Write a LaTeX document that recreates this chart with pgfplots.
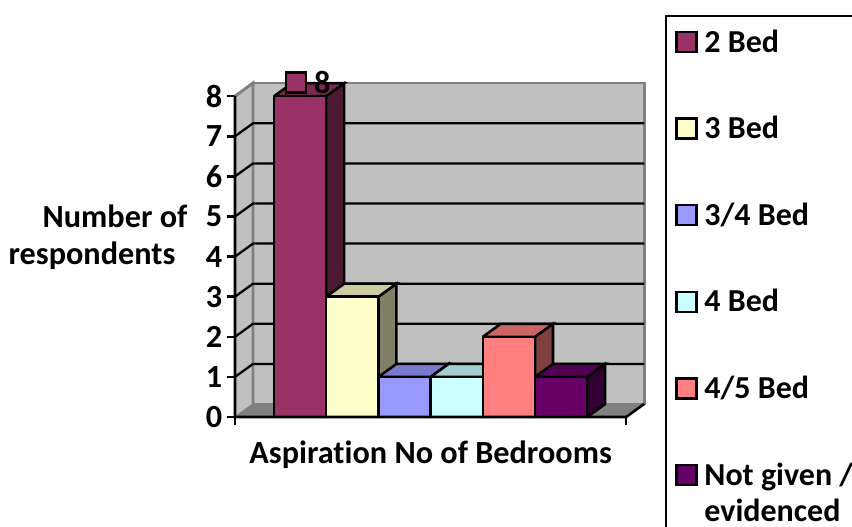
\documentclass[border=0pt]{standalone}
\usepackage{fontspec}
\setmainfont[Ligatures=NoCommon]{Carlito}
\usepackage{pgfplots}
\pgfplotsset{compat=1.18}
\definecolor{wall}{HTML}{C0C0C0}
\definecolor{edge}{HTML}{808080}
\newcommand{\lab}{\fontsize{24.2}{28}\selectfont\bfseries}
\begin{document}
\begin{tikzpicture}
\useasboundingbox (0,0) rectangle (639pt,394.5pt);
\begin{axis}[
    at={(176.25pt,81.75pt)}, anchor=south west,
    x=39.15pt, y=30.075pt,
    xmin=-0.747, xmax=7.09, ymin=0, ymax=8.33,
    clip=false,
    axis x line=bottom, axis y line=left,
    axis line style={draw=none},
    tick align=outside,
    major tick length=6pt,
    tick style={black, line width=1.9pt},
    xtick={-0.747,6.747}, xticklabels={,},
    ytick={0,1,2,3,4,5,6,7,8},
    /pgf/number format/assume math mode=true,
    tick label style={font=\lab},
    legend image code/.code={\draw[#1] (0pt,0pt) rectangle (15pt,15pt);},
    legend style={
        at={(1.051,1.2036)}, anchor=north west,
        draw=black, line width=1.9pt,
        inner xsep=6.75pt, inner ysep=10.9pt,
        row sep=19pt, column sep=5pt,
        font=\fontsize{24}{27.5}\selectfont\bfseries,
        cells={anchor=base west},
        nodes={inner sep=0pt, text height=15pt, text depth=30pt},
    },
    bar3/.style={draw=black, line width=1.9pt, line join=miter},
]
% walls and floor
\addplot[forget plot, fill=wall, draw=edge, line width=2.2pt] coordinates {(-0.402,0.324) (7.09,0.324) (7.09,8.33) (-0.402,8.33) (-0.402,0.324)};
\addplot[forget plot, fill=wall, draw=none] coordinates {(-0.747,0) (-0.402,0.324) (-0.402,8.33) (-0.747,8) (-0.747,0)};
\addplot[forget plot, draw=edge, line width=2.2pt] coordinates {(-0.747,8) (-0.402,8.33) (-0.402,0.324)};
\addplot[forget plot, fill=edge, draw=edge, line width=1pt] coordinates {(-0.747,0) (6.747,0) (7.09,0.324) (-0.402,0.324) (-0.747,0)};
% gridlines, back wall and left wall
\addplot[forget plot, black, line width=1.7pt] coordinates {(-0.747,1) (-0.402,1.324) (7.09,1.324)};
\addplot[forget plot, black, line width=1.7pt] coordinates {(-0.747,2) (-0.402,2.324) (7.09,2.324)};
\addplot[forget plot, black, line width=1.7pt] coordinates {(-0.747,3) (-0.402,3.324) (7.09,3.324)};
\addplot[forget plot, black, line width=1.7pt] coordinates {(-0.747,4) (-0.402,4.324) (7.09,4.324)};
\addplot[forget plot, black, line width=1.7pt] coordinates {(-0.747,5) (-0.402,5.324) (7.09,5.324)};
\addplot[forget plot, black, line width=1.7pt] coordinates {(-0.747,6) (-0.402,6.324) (7.09,6.324)};
\addplot[forget plot, black, line width=1.7pt] coordinates {(-0.747,7) (-0.402,7.324) (7.09,7.324)};
% 2 Bed = 8
\addplot[forget plot, bar3, fill={rgb,255:red,77;green,26;blue,51}] coordinates {(1,0) (1.345,0.324) (1.345,8.324) (1,8) (1,0)};
\addplot[forget plot, bar3, fill={rgb,255:red,122;green,41;blue,82}] coordinates {(0,8) (1,8) (1.345,8.324) (0.345,8.324) (0,8)};
\addplot[bar3, fill={rgb,255:red,153;green,51;blue,102}] coordinates {(0,0) (1,0) (1,8) (0,8) (0,0)};
% 3 Bed = 3
\addplot[forget plot, bar3, fill={rgb,255:red,128;green,128;blue,102}] coordinates {(2,0) (2.345,0.324) (2.345,3.324) (2,3) (2,0)};
\addplot[forget plot, bar3, fill={rgb,255:red,204;green,204;blue,163}] coordinates {(1,3) (2,3) (2.345,3.324) (1.345,3.324) (1,3)};
\addplot[bar3, fill={rgb,255:red,255;green,255;blue,204}] coordinates {(1,0) (2,0) (2,3) (1,3) (1,0)};
% 3/4 Bed = 1
\addplot[forget plot, bar3, fill={rgb,255:red,77;green,77;blue,128}] coordinates {(3,0) (3.345,0.324) (3.345,1.324) (3,1) (3,0)};
\addplot[forget plot, bar3, fill={rgb,255:red,122;green,122;blue,204}] coordinates {(2,1) (3,1) (3.345,1.324) (2.345,1.324) (2,1)};
\addplot[bar3, fill={rgb,255:red,153;green,153;blue,255}] coordinates {(2,0) (3,0) (3,1) (2,1) (2,0)};
% 4 Bed = 1
\addplot[forget plot, bar3, fill={rgb,255:red,102;green,128;blue,128}] coordinates {(4,0) (4.345,0.324) (4.345,1.324) (4,1) (4,0)};
\addplot[forget plot, bar3, fill={rgb,255:red,163;green,204;blue,204}] coordinates {(3,1) (4,1) (4.345,1.324) (3.345,1.324) (3,1)};
\addplot[bar3, fill={rgb,255:red,204;green,255;blue,255}] coordinates {(3,0) (4,0) (4,1) (3,1) (3,0)};
% 4/5 Bed = 2
\addplot[forget plot, bar3, fill={rgb,255:red,128;green,64;blue,64}] coordinates {(5,0) (5.345,0.324) (5.345,2.324) (5,2) (5,0)};
\addplot[forget plot, bar3, fill={rgb,255:red,204;green,102;blue,102}] coordinates {(4,2) (5,2) (5.345,2.324) (4.345,2.324) (4,2)};
\addplot[bar3, fill={rgb,255:red,255;green,128;blue,128}] coordinates {(4,0) (5,0) (5,2) (4,2) (4,0)};
% Not given / evidenced = 1
\addplot[forget plot, bar3, fill={rgb,255:red,51;green,0;blue,51}] coordinates {(6,0) (6.345,0.324) (6.345,1.324) (6,1) (6,0)};
\addplot[forget plot, bar3, fill={rgb,255:red,82;green,0;blue,82}] coordinates {(5,1) (6,1) (6.345,1.324) (5.345,1.324) (5,1)};
\addplot[bar3, fill={rgb,255:red,102;green,0;blue,102}] coordinates {(5,0) (6,0) (6,1) (5,1) (5,0)};
% axis lines
\addplot[forget plot, black, line width=1.9pt] coordinates {(-0.747,8) (-0.747,0) (6.747,0) (7.09,0.324)};
% data label
\addplot[forget plot, only marks, mark=square*, mark size=7.5pt,
    mark options={fill={rgb,255:red,153;green,51;blue,102}, draw=black, line width=1.7pt}]
    coordinates {(0.42,8.34)};
\legend{2 Bed,3 Bed,3/4 Bed,4 Bed,4/5 Bed,{\parbox[t]{200pt}{Not given /\\evidenced}}}
\node[font=\lab] at (axis cs:0.925,8.33) {8};
\node[font=\lab] at (axis cs:-3.046,5.01) {Number of};
\node[font=\lab] at (axis cs:-3.487,4.01) {respondents};
\node[font=\lab] at (axis cs:3.0,-0.95) {Aspiration No of Bedrooms};
\end{axis}
\end{tikzpicture}
\end{document}
